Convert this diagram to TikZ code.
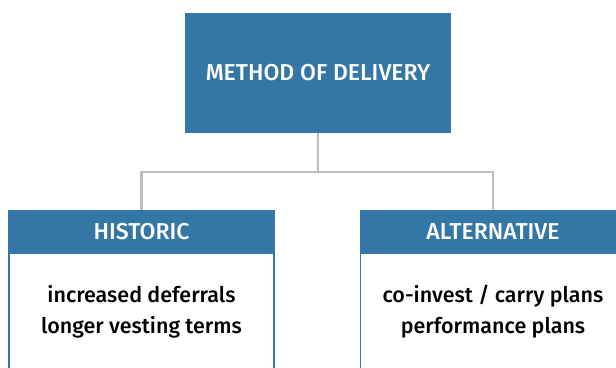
\documentclass[tikz,border=0pt]{standalone}
\usepackage{fontspec}
\setmainfont{Fira Sans}
\newfontfamily\medfont{Fira Sans Medium}
\usepackage{xcolor}
\usetikzlibrary{positioning}

\definecolor{steel}{HTML}{3476A5}
\definecolor{linegray}{HTML}{BFBFBF}

\tikzset{
  topbox/.style={fill=steel, text=white, minimum width=266pt, minimum height=120pt, font=\medfont\fontsize{23}{26}\selectfont},
  headbox/.style={fill=steel, draw=steel, line width=1.5pt, text=white, minimum width=265pt, minimum height=42pt, font=\medfont\fontsize{23}{26}\selectfont},
  bodybox/.style={draw=steel, line width=1.5pt, fill=white, minimum width=265pt, minimum height=150pt, anchor=north},
  itemtext/.style={font=\medfont\fontsize{21.5}{31}\selectfont, align=center},
  link/.style={draw=linegray, line width=2.5pt}
}

\begin{document}
\begin{tikzpicture}[x=1pt, y=-1pt]
  \useasboundingbox (0,0) rectangle (616,367);
  \clip (0,0) rectangle (616,367);

  \node[topbox] (delivery) at (318,73) {METHOD OF DELIVERY};

  % the two branches
  \node[bodybox] (histbody) at (141.5,252) {};
  \node[headbox] (historic) at (141.5,232) {HISTORIC};
  \node[bodybox] (altbody) at (493,252) {};
  \node[headbox] (alternative) at (493,232) {ALTERNATIVE};

  \node[itemtext] (histitems) at (141.5,312) {increased deferrals\\longer vesting terms};
  \node[itemtext] (altitems) at (493,312) {co-invest / carry plans\\performance plans};

  \coordinate (split) at (318,172);
  \draw[link] (delivery.south) -- (split);
  \draw[link] (split) -| (historic.north);
  \draw[link] (split) -| (alternative.north);
\end{tikzpicture}
\end{document}
